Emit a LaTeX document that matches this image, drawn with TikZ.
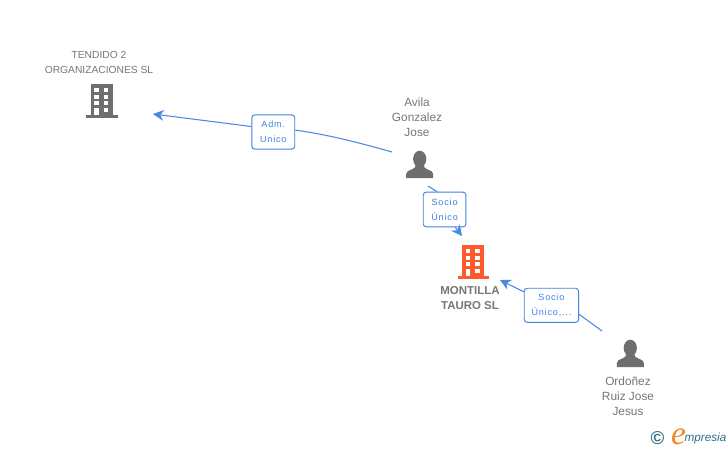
\documentclass[tikz,border=0pt]{standalone}
\usepackage{fontspec}
\setmainfont{Liberation Sans}
\newfontfamily\lblfont[LetterSpace=9]{Liberation Sans}
\newfontfamily\logoserif{Liberation Serif}
\usetikzlibrary{arrows.meta}
\definecolor{icongray}{HTML}{6E6E6E}
\definecolor{textgray}{HTML}{777777}
\definecolor{linkblue}{HTML}{4A88E4}
\definecolor{boxblue}{HTML}{3F80E0}
\definecolor{iconorange}{HTML}{FF5A2C}
\definecolor{logoteal}{HTML}{2F7286}
\definecolor{logoorange}{HTML}{F08A24}
\tikzset{
  x=0.75pt,y=-0.75pt,
  entity/.style={text=textgray,font=\fontsize{7.7pt}{11.25pt}\selectfont,align=center,inner sep=0pt},
  personlabel/.style={entity,font=\fontsize{8.9pt}{11.25pt}\selectfont},
  entitybold/.style={entity,font=\fontsize{8.6pt}{11.25pt}\selectfont\bfseries},
  relbox/.style={draw=boxblue,line width=0.7pt,rounded corners=2.2pt,fill=white,text=boxblue,
    font=\fontsize{6.8pt}{11.25pt}\selectfont\lblfont,align=center,inner sep=0pt,anchor=center},
  link/.style={draw=linkblue,line width=0.8pt},
  linkarrow/.style={link,-{Stealth[length=8pt,width=8pt,inset=2.5pt]}},
  pics/buildingicon/.style={code={
    \fill[#1] (-11.5,0) rectangle (10.5,31.5);
    \fill[#1] (-16,31) rectangle (15.5,34);
    \foreach \yy in {4,10.5,17}{
      \fill[white] (-8,\yy) rectangle (-3.3,\yy+4);
      \fill[white] (1.6,\yy) rectangle (6.4,\yy+4);
    }
    \fill[white] (1.6,23.5) rectangle (6.4,28);
    \fill[white] (-8,24) rectangle (-3.3,31);
  }},
  pics/personicon/.style={code={
    \fill[#1] (0,8) ellipse (6.6 and 8.3);
    \fill[#1] (-13.5,27) -- (-13.5,23) .. controls (-13.5,20.5) and (-11,19.5) .. (-8,18.5)
      .. controls (-5.5,17.5) and (-4,16.5) .. (-4,14) -- (4,14)
      .. controls (4,16.5) and (5.5,17.5) .. (8,18.5)
      .. controls (11,19.5) and (13.5,20.5) .. (13.5,23) -- (13.5,27) -- cycle;
  }},
}
\begin{document}
\begin{tikzpicture}
\useasboundingbox[fill=white] (0,0) rectangle (728,450);

% icons
\pic at (102,84) {buildingicon=icongray};
\pic at (473.5,245) {buildingicon=iconorange};
\pic at (419.7,151) {personicon=icongray};
\pic at (630.3,340) {personicon=icongray};

% texts
\node[entity] (tendido) at (99,62.5) {TENDIDO 2\\ORGANIZACIONES SL};
\node[personlabel] (avila) at (417,117) {Avila\\Gonzalez\\Jose};
\node[entitybold] (montilla) at (470,298.5) {MONTILLA\\TAURO SL};
\node[personlabel] (ordonez) at (628,396) {Ordoñez\\Ruiz Jose\\Jesus};

% relation boxes
\node[relbox,minimum width=32.2pt,minimum height=25.6pt] (box1) at (273.3,132) {Adm.\\Unico};
\node[relbox,minimum width=32pt,minimum height=26pt] (box2) at (444.6,209.5) {Socio\\Único};
\node[relbox,minimum width=40.7pt,minimum height=25.6pt] (box3) at (551.4,305.3) {Socio\\Único,...};

% connector ends
\coordinate (avilaOut) at (392,152);
\coordinate (tendidoIn) at (153,114);
\coordinate (avilaDown) at (428,186);
\coordinate (montillaTop) at (462,236);
\coordinate (montillaSide) at (500,280);
\coordinate (ordonezOut) at (602,331);

% connectors
\draw[link] (avilaOut) .. controls (360,143) and (330,135) .. (box1.5);
\draw[linkarrow] (box1.166) -- (tendidoIn);
\draw[link] (avilaDown) -- (box2.113);
\draw[linkarrow] (box2.-59) -- (montillaTop);
\draw[link] (ordonezOut) -- (box3.-18);
\draw[linkarrow] (box3.154) -- (montillaSide);

% logo
\node[text=logoteal,font=\fontsize{14pt}{14pt}\selectfont\bfseries,inner sep=0pt] (logoc) at (657.5,438.5) {©};
\node[text=logoorange,font=\fontsize{25pt}{25pt}\selectfont\logoserif\itshape,inner sep=0pt] (logoe) at (678.5,436.5) {e};
\node[text=logoteal,font=\fontsize{8.8pt}{10pt}\selectfont\itshape,inner sep=0pt] (logot) at (705.5,438.5) {mpresia};
\end{tikzpicture}
\end{document}
